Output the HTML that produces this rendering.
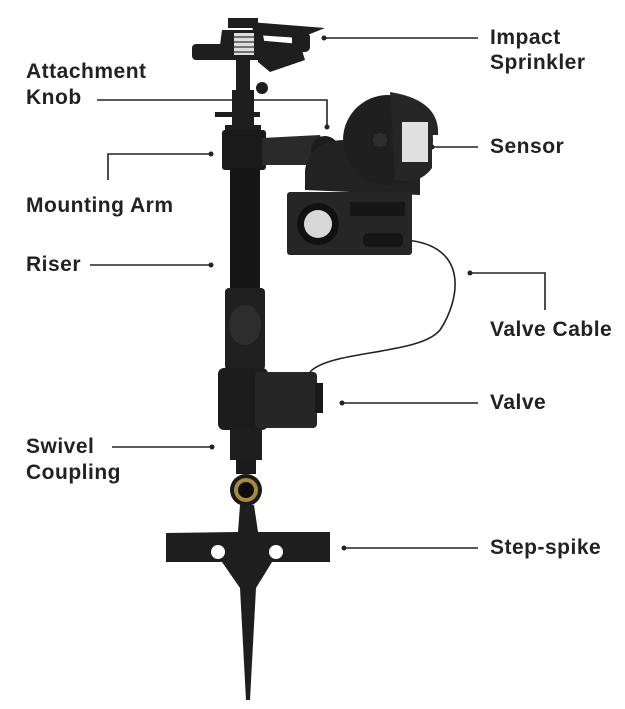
<!DOCTYPE html>
<html><head><meta charset="utf-8"><style>
html,body{margin:0;padding:0;background:#fff;}
svg{display:block;}
text{font-family:"Liberation Sans",sans-serif;font-weight:bold;font-size:21px;letter-spacing:0.5px;fill:#222;}
</style></head><body>
<svg width="625" height="709" viewBox="0 0 625 709" xmlns="http://www.w3.org/2000/svg">
<g stroke="#222" stroke-width="1.6" fill="none">
<line x1="324" y1="38" x2="478" y2="38"/>
<polyline points="97,100 327,100 327,127"/>
<line x1="432" y1="147" x2="478" y2="147"/>
<polyline points="108,180 108,154 211,154"/>
<line x1="90" y1="265" x2="211" y2="265"/>
<polyline points="470,273 545,273 545,310"/>
<line x1="342" y1="403" x2="478" y2="403"/>
<line x1="112" y1="447" x2="212" y2="447"/>
<line x1="344" y1="548" x2="478" y2="548"/>
</g>
<g fill="#222">
<circle cx="324" cy="38" r="2.5"/><circle cx="327" cy="127" r="2.5"/><circle cx="432" cy="147" r="2.5"/>
<circle cx="211" cy="154" r="2.5"/><circle cx="211" cy="265" r="2.5"/><circle cx="470" cy="273" r="2.5"/>
<circle cx="342" cy="403" r="2.5"/><circle cx="212" cy="447" r="2.5"/><circle cx="344" cy="548" r="2.5"/>
</g>
<text x="490" y="44">Impact</text>
<text x="490" y="69">Sprinkler</text>
<text x="26" y="78">Attachment</text>
<text x="26" y="104">Knob</text>
<text x="490" y="153">Sensor</text>
<text x="26" y="212">Mounting Arm</text>
<text x="26" y="271">Riser</text>
<text x="490" y="336">Valve Cable</text>
<text x="490" y="409">Valve</text>
<text x="26" y="453">Swivel</text>
<text x="26" y="479">Coupling</text>
<text x="490" y="554">Step-spike</text>

<path d="M405,240 C470,245 460,300 440,330 C420,355 330,350 310,372" stroke="#222" stroke-width="1.6" fill="none"/>

<g fill="#1e1e1e">
<rect x="228" y="18" width="30" height="10"/>
<polygon points="250,22 325,28 300,38 255,35"/>
<polygon points="222,30 262,30 268,60 218,60"/>
<rect x="192" y="44" width="45" height="16" rx="4"/>
<polygon points="255,40 300,44 305,60 270,72 258,62"/>
<rect x="292" y="32" width="18" height="20" rx="5"/>
<rect x="236" y="60" width="14" height="30"/>
<circle cx="262" cy="88" r="6"/>
<rect x="232" y="90" width="22" height="35"/>
<rect x="215" y="112" width="45" height="5"/>
<rect x="225" y="125" width="36" height="8"/>
</g>
<rect x="234" y="33" width="20" height="22" fill="#ddd"/>
<g stroke="#333" stroke-width="1.2"><line x1="234" y1="37" x2="254" y2="37"/><line x1="234" y1="42" x2="254" y2="42"/><line x1="234" y1="47" x2="254" y2="47"/><line x1="234" y1="52" x2="254" y2="52"/></g>
<rect x="222" y="130" width="44" height="40" rx="3" fill="#1a1a1a"/>
<rect x="230" y="168" width="30" height="125" fill="#161616"/>
<rect x="225" y="288" width="40" height="82" rx="4" fill="#202020"/>
<ellipse cx="245" cy="325" rx="16" ry="20" fill="#2d2d2d"/>
<polygon points="262,138 320,135 330,165 262,165" fill="#2a2a2a"/>
<circle cx="325" cy="150" r="14" fill="#1c1c1c"/>
<path d="M305,190 L305,170 Q310,140 345,140 L420,160 L420,195 Z" fill="#222"/>
<circle cx="388" cy="140" r="45" fill="#1f1f1f"/>
<path d="M390,92 Q440,100 438,135 L432,135 L432,168 Q420,185 395,180 Z" fill="#262626"/>
<rect x="402" y="122" width="26" height="40" fill="#e0e0e0"/>
<circle cx="380" cy="140" r="7" fill="#2e2e2e"/>
<rect x="287" y="192" width="125" height="63" rx="3" fill="#262626"/>
<circle cx="318" cy="224" r="21" fill="#111"/>
<circle cx="318" cy="224" r="14" fill="#d8d8d8"/>
<rect x="350" y="202" width="55" height="14" fill="#161616"/>
<rect x="363" y="233" width="40" height="14" rx="6" fill="#151515"/>
<rect x="218" y="368" width="50" height="62" rx="6" fill="#1c1c1c"/>
<rect x="255" y="372" width="62" height="56" rx="4" fill="#262626"/>
<rect x="315" y="383" width="8" height="30" fill="#1a1a1a"/>
<rect x="230" y="428" width="32" height="32" fill="#1e1e1e"/>
<rect x="236" y="460" width="20" height="14" fill="#1a1a1a"/>
<circle cx="246" cy="490" r="16" fill="#1a1a1a"/>
<circle cx="246" cy="490" r="12" fill="#a88a3a"/>
<circle cx="246" cy="490" r="8" fill="#0c0c0c"/>
<polygon points="166,533 238,532 240,505 254,505 258,532 330,532 330,562 272,562 256,588 250,700 246,700 240,588 222,562 166,562" fill="#1e1e1e"/>
<circle cx="218" cy="552" r="7" fill="#fff"/>
<circle cx="276" cy="552" r="7" fill="#fff"/>
</svg>
</body></html>
